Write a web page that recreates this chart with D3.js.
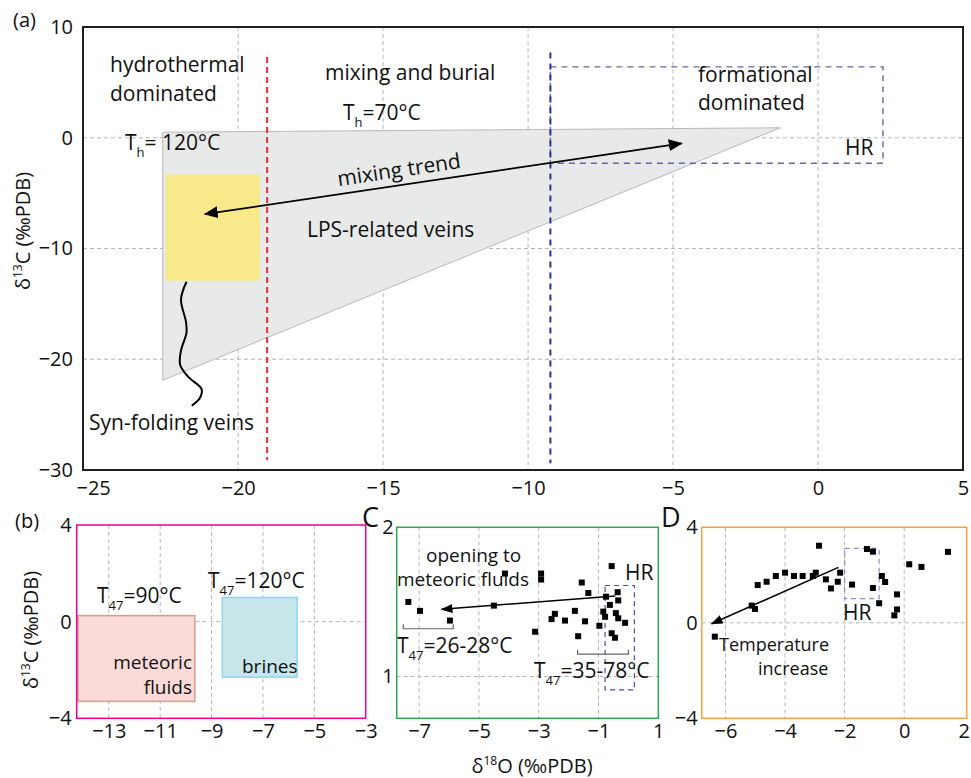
<!DOCTYPE html>
<html>
<head>
<meta charset="utf-8">
<script src="https://cdn.jsdelivr.net/npm/d3@7"></script>
<style>
  body { margin: 0; background: #fff; }
  svg { display: block; font-family: "Open Sans", sans-serif; }
</style>
</head>
<body>
<svg id="chart" width="971" height="778"></svg>
<script>
// ---- panel (a) data ----
const aXTicks = [-25, -20, -15, -10, -5, 0, 5];
const aYTicks = [10, 0, -10, -20, -30];
const aGridX = [-20, -15, -10, -5, 0];
const aGridY = [0, -10, -20];
const lpsField = [[-22.6, 0.5], [-1.3, 0.9], [-22.6, -21.9]]; // LPS-related veins
const synFoldingBox = { x0: -22.5, x1: -19.25, y0: -3.3, y1: -12.9 };
const synFoldingWiggle = [[-21.78, -13.0], [-21.97, -14.6], [-21.8, -16.6], [-21.78, -17.6],
  [-21.97, -19.2], [-22.0, -20.5], [-21.72, -21.6], [-21.26, -22.7], [-21.32, -23.5], [-21.6, -24.2]];
const mixingTrend = [[-4.7, -0.5], [-21.15, -6.9]];
const hydroLimit = { x: -19, y0: 7.3, y1: -29.1 };
const formLimit = { x: -9.23, y0: 7.7, y1: -29.4 };
const hrBoxA = { x0: -9.23, x1: 2.24, y0: 6.4, y1: -2.3 };

// ---- panel (b) data ----
const bXTicks = [-13, -11, -9, -7, -5, -3];
const bYTicks = [4, 0, -4];
const bGridX = [-13, -11, -9, -7, -5];
const bGridY = [0];
const meteoricBox = { x0: -14.2, x1: -9.65, y0: 0.25, y1: -3.3 };
const brinesBox = { x0: -8.58, x1: -5.67, y0: 1.0, y1: -2.3 };

// ---- panel C data ----
const cXTicks = [-7, -5, -3, -1, 1];
const cYTicks = [2, 1];
const cGridX = [-7, -5, -3, -1];
const cGridY = [1];
const cO18 = [-7.36, -6.97, -5.97, -4.50, -4.13, -2.92, -2.92, -3.12, -2.46, -2.57, -2.12, -1.79, -1.56,
  -1.34, -1.45, -1.68, -0.97, -0.56, -0.75, -0.36, -0.34, -0.62, -0.84, -0.78, -0.42, -0.34, -0.11,
  -0.56, -0.45];
const cC13 = [1.50, 1.44, 1.375, 1.475, 1.69, 1.69, 1.65, 1.30, 1.42, 1.385, 1.375, 1.44, 1.63,
  1.56, 1.37, 1.27, 1.34, 1.74, 1.535, 1.565, 1.51, 1.48, 1.435, 1.40, 1.425, 1.39, 1.36,
  1.29, 1.26];
const cArrow = [[-0.44, 1.54], [-6.25, 1.45]];
const hrBoxC = { x0: -0.78, x1: 0.2, y0: 1.61, y1: 0.91 };
const cBrackets = [{ x0: -7.53, x1: -5.86, y: 1.32, top: 1.35 }, { x0: -1.7, x1: 0.0, y: 1.15, top: 1.18 }];

// ---- panel D data ----
const dXTicks = [-6, -4, -2, 0, 2];
const dYTicks = [4, 0, -4];
const dGridX = [-6, -4, -2, 0];
const dGridY = [0];
const dO18 = [-6.36, -5.12, -5.01, -4.92, -4.62, -4.31, -4.0, -3.70, -3.41, -3.07, -2.97, -2.86, -2.63,
  -2.46, -2.23, -2.15, -1.75, -1.25, -1.05, -1.05, -0.75, -0.64, -0.84, -0.24, -0.24, -0.33, 0.17,
  0.58, 1.47];
const dC13 = [-0.58, 0.72, 0.58, 1.58, 1.72, 1.96, 2.10, 1.96, 1.96, 1.96, 2.10, 3.23, 1.82,
  1.44, 1.72, 2.10, 1.60, 3.09, 2.98, 1.46, 1.96, 1.71, 0.82, 1.19, 0.56, 0.31, 2.45,
  2.34, 2.97];
const dArrow = [[-2.21, 2.32], [-6.47, -0.04]];
const hrBoxD = { x0: -2.0, x1: -0.84, y0: 3.12, y1: 1.01 };

const svg = d3.select("#chart");
const gridColor = "#b7b7b7";
const tickFmt = d => (d < 0 ? "\u2212" : "") + Math.abs(d);

const defs = svg.append("defs");
defs.append("marker").attr("id", "headBig")
  .attr("viewBox", "0 0 14 12").attr("refX", 13).attr("refY", 6)
  .attr("markerWidth", 14).attr("markerHeight", 12)
  .attr("markerUnits", "userSpaceOnUse").attr("orient", "auto-start-reverse")
  .append("path").attr("d", "M0,0L14,6L0,12Z").attr("fill", "#000");
defs.append("marker").attr("id", "headSmall")
  .attr("viewBox", "0 0 12 9").attr("refX", 11).attr("refY", 4.5)
  .attr("markerWidth", 12).attr("markerHeight", 9)
  .attr("markerUnits", "userSpaceOnUse").attr("orient", "auto-start-reverse")
  .append("path").attr("d", "M0,0L12,4.5L0,9Z").attr("fill", "#000");

// builds a panel: scales, dashed grid, tick labels; frame sits on top
function panel(o) {
  const x = d3.scaleLinear(o.xDomain, [o.left, o.right]);
  const y = d3.scaleLinear(o.yDomain, [o.bottom, o.top]);
  const g = svg.append("g");
  const grid = g.append("g").attr("stroke", gridColor).attr("stroke-dasharray", "4,3").attr("stroke-width", 1);
  grid.selectAll(".gx").data(o.gridX).join("line")
    .attr("x1", d => x(d)).attr("x2", d => x(d)).attr("y1", o.top).attr("y2", o.bottom);
  grid.selectAll(".gy").data(o.gridY).join("line")
    .attr("y1", d => y(d)).attr("y2", d => y(d)).attr("x1", o.left).attr("x2", o.right);
  const content = g.append("g");
  const top = g.append("g");
  top.append("g")
    .attr("transform", `translate(0,${o.bottom})`)
    .call(d3.axisBottom(x).tickValues(o.xTicks).tickFormat(tickFmt).tickSize(0).tickPadding(o.xPad))
    .call(a => a.select(".domain").remove())
    .call(a => a.selectAll("text").attr("font-size", 20).attr("font-family", "Open Sans").attr("fill", "#111"));
  top.append("g")
    .attr("transform", `translate(${o.left},0)`)
    .call(d3.axisLeft(y).tickValues(o.yTicks).tickFormat(tickFmt).tickSize(0).tickPadding(o.yPad))
    .call(a => a.select(".domain").remove())
    .call(a => a.selectAll("text").attr("font-size", 20).attr("font-family", "Open Sans").attr("fill", "#111"));
  top.append("rect")
    .attr("x", o.left).attr("y", o.top)
    .attr("width", o.right - o.left).attr("height", o.bottom - o.top)
    .attr("fill", "none").attr("stroke", o.frame).attr("stroke-width", o.frameWidth);
  return { x, y, g: content, top };
}

function label(g, x, y, str, size, anchor) {
  return g.append("text").attr("x", x).attr("y", y).attr("font-size", size)
    .attr("text-anchor", anchor || "start").attr("fill", "#111").text(str);
}

// text like T<sub>h</sub>=70°C
function subLabel(g, x, y, main, sub, rest, size) {
  const t = g.append("text").attr("x", x).attr("y", y).attr("font-size", size).attr("fill", "#111");
  t.append("tspan").text(main);
  t.append("tspan").attr("font-size", size * 0.62).attr("dy", size * 0.32).text(sub);
  t.append("tspan").attr("dy", -size * 0.32).text(rest);
  return t;
}

function yTitle(x, y, iso) {
  const t = svg.append("text").attr("transform", `translate(${x},${y}) rotate(-90)`)
    .attr("text-anchor", "middle").attr("font-size", 20).attr("fill", "#111");
  t.append("tspan").text("δ");
  t.append("tspan").attr("font-size", 12).attr("dy", -8).text(iso);
  t.append("tspan").attr("dy", 8).text("C (‰PDB)");
}

function box(p, b, fill, stroke, dash, width) {
  p.g.append("rect")
    .attr("x", p.x(b.x0)).attr("y", p.y(b.y0))
    .attr("width", p.x(b.x1) - p.x(b.x0)).attr("height", p.y(b.y1) - p.y(b.y0))
    .attr("fill", fill).attr("stroke", stroke).attr("stroke-width", width || 1.5)
    .attr("stroke-dasharray", dash || null);
}

// ================= panel (a) =================
const pa = panel({
  left: 83, right: 963, top: 27, bottom: 470,
  xDomain: [-25.35, 5], yDomain: [-30, 10],
  xTicks: aXTicks, yTicks: aYTicks, gridX: aGridX, gridY: aGridY,
  xPad: 11, yPad: 10, frame: "#231f20", frameWidth: 2
});
pa.g.append("path")
  .attr("d", d3.line().x(d => pa.x(d[0])).y(d => pa.y(d[1]))(lpsField) + "Z")
  .attr("fill", "#e8e9e9").attr("stroke", "#b9b9b9").attr("stroke-width", 1);
box(pa, synFoldingBox, "#f8ea8a", "none");
pa.g.append("path")
  .attr("d", d3.line().x(d => pa.x(d[0])).y(d => pa.y(d[1])).curve(d3.curveCatmullRom)(synFoldingWiggle))
  .attr("fill", "none").attr("stroke", "#000").attr("stroke-width", 2);
pa.g.append("line")
  .attr("x1", pa.x(hydroLimit.x)).attr("x2", pa.x(hydroLimit.x))
  .attr("y1", pa.y(hydroLimit.y0)).attr("y2", pa.y(hydroLimit.y1))
  .attr("stroke", "#ec2f3b").attr("stroke-width", 2).attr("stroke-dasharray", "6,4");
box(pa, hrBoxA, "none", "#6366ad", "6,5", 1.4);
pa.g.append("line")
  .attr("x1", pa.x(formLimit.x)).attr("x2", pa.x(formLimit.x))
  .attr("y1", pa.y(formLimit.y0)).attr("y2", pa.y(formLimit.y1))
  .attr("stroke", "#2e3192").attr("stroke-width", 2).attr("stroke-dasharray", "6,5");
pa.g.append("line")
  .attr("x1", pa.x(mixingTrend[0][0])).attr("y1", pa.y(mixingTrend[0][1]))
  .attr("x2", pa.x(mixingTrend[1][0])).attr("y2", pa.y(mixingTrend[1][1]))
  .attr("stroke", "#000").attr("stroke-width", 1.8)
  .attr("marker-start", "url(#headBig)").attr("marker-end", "url(#headBig)");

label(svg, 13, 27, "(a)", 20);
label(pa.g, 110, 72, "hydrothermal", 21);
label(pa.g, 110, 101, "dominated", 21);
label(pa.g, 325, 80, "mixing and burial", 21);
subLabel(pa.g, 343, 120, "T", "h", "=70°C", 21);
subLabel(pa.g, 125, 150, "T", "h", "= 120°C", 21);
label(pa.g, 307, 237, "LPS-related veins", 21);
label(pa.g, 698, 82, "formational", 21);
label(pa.g, 698, 110, "dominated", 21);
label(pa.g, 845, 155, "HR", 21);
label(pa.g, 89, 430, "Syn-folding veins", 21);
const ang = Math.atan2(pa.y(mixingTrend[0][1]) - pa.y(mixingTrend[1][1]), pa.x(mixingTrend[0][0]) - pa.x(mixingTrend[1][0])) * 180 / Math.PI;
label(pa.g, 0, 0, "mixing trend", 21, "middle").attr("transform", `translate(400,177) rotate(${ang})`);
yTitle(30, 231, "13");

// ================= panel (b) =================
const pb = panel({
  left: 76.7, right: 365.7, top: 525, bottom: 718.3,
  xDomain: [-14.25, -3], yDomain: [-4, 4],
  xTicks: bXTicks, yTicks: bYTicks, gridX: bGridX, gridY: bGridY,
  xPad: 5, yPad: 5, frame: "#ec008c", frameWidth: 1.5
});
box(pb, meteoricBox, "#fadbd8", "#d99a8c");
box(pb, brinesBox, "#c7e6ea", "#8fd6f2");
label(svg, 15, 528, "(b)", 20);
subLabel(pb.g, 97, 603, "T", "47", "=90°C", 21);
subLabel(pb.g, 208, 588, "T", "47", "=120°C", 21);
label(pb.g, 192, 669, "meteoric", 19, "end");
label(pb.g, 192, 694, "fluids", 19, "end");
label(pb.g, 242, 673, "brines", 19);
yTitle(38, 630, "13");

// ================= panel C =================
const pc = panel({
  left: 396.7, right: 658.3, top: 527.3, bottom: 718.3,
  xDomain: [-7.75, 1], yDomain: [0.72, 2],
  xTicks: cXTicks, yTicks: cYTicks, gridX: cGridX, gridY: cGridY,
  xPad: 5, yPad: 3, frame: "#2ea64f", frameWidth: 1.5
});
box(pc, hrBoxC, "none", "#4b4ea0", "5,4", 1.2);
pc.g.append("g").attr("stroke", "#666").attr("stroke-width", 1.2).attr("fill", "none")
  .selectAll("path").data(cBrackets).join("path")
  .attr("d", d => `M${pc.x(d.x0)},${pc.y(d.top)}V${pc.y(d.y)}H${pc.x(d.x1)}V${pc.y(d.top)}`);
pc.g.append("g").selectAll("rect").data(d3.range(cO18.length)).join("rect")
  .attr("x", i => pc.x(cO18[i]) - 3).attr("y", i => pc.y(cC13[i]) - 3)
  .attr("width", 6).attr("height", 6).attr("fill", "#000");
pc.g.append("line")
  .attr("x1", pc.x(cArrow[0][0])).attr("y1", pc.y(cArrow[0][1]))
  .attr("x2", pc.x(cArrow[1][0])).attr("y2", pc.y(cArrow[1][1]))
  .attr("stroke", "#000").attr("stroke-width", 1.5).attr("marker-end", "url(#headSmall)");
label(svg, 362, 527, "C", 27);
label(pc.g, 426, 562, "opening to", 19);
label(pc.g, 397, 586, "meteoric fluids", 19);
label(pc.g, 625, 580, "HR", 21);
subLabel(pc.g, 397, 653, "T", "47", "=26-28°C", 21);
subLabel(pc.g, 534, 678, "T", "47", "=35-78°C", 21);

// ================= panel D =================
const pd = panel({
  left: 701.7, right: 966.7, top: 527.3, bottom: 718.3,
  xDomain: [-6.8, 2.1], yDomain: [-4, 4],
  xTicks: dXTicks, yTicks: dYTicks, gridX: dGridX, gridY: dGridY,
  xPad: 5, yPad: 4, frame: "#f6a23a", frameWidth: 1.5
});
box(pd, hrBoxD, "none", "#8b8dcc", "5,4", 1.2);
pd.g.append("g").selectAll("rect").data(d3.range(dO18.length)).join("rect")
  .attr("x", i => pd.x(dO18[i]) - 3).attr("y", i => pd.y(dC13[i]) - 3)
  .attr("width", 6).attr("height", 6).attr("fill", "#000");
pd.g.append("line")
  .attr("x1", pd.x(dArrow[0][0])).attr("y1", pd.y(dArrow[0][1]))
  .attr("x2", pd.x(dArrow[1][0])).attr("y2", pd.y(dArrow[1][1]))
  .attr("stroke", "#000").attr("stroke-width", 1.5).attr("marker-end", "url(#headSmall)");
label(svg, 661, 527, "D", 27);
label(pd.g, 843, 620, "HR", 21);
label(pd.g, 719, 651, "Temperature", 18);
label(pd.g, 758, 675, "increase", 18);

// shared x title
const xt = svg.append("text").attr("x", 532).attr("y", 773).attr("text-anchor", "middle")
  .attr("font-size", 20).attr("fill", "#111");
xt.append("tspan").text("δ");
xt.append("tspan").attr("font-size", 12).attr("dy", -8).text("18");
xt.append("tspan").attr("dy", 8).text("O (‰PDB)");
</script>
</body>
</html>
